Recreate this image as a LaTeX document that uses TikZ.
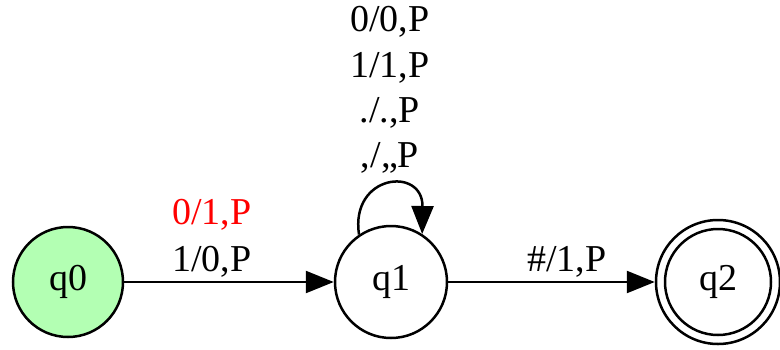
\documentclass[tikz,border=0pt]{standalone}
\usepackage{fontspec}
\setmainfont{Liberation Serif}
\usetikzlibrary{arrows.meta}
\definecolor{startgreen}{RGB}{179,255,179}
\definecolor{lblred}{RGB}{255,0,0}
\tikzset{
  statenode/.style={circle, draw=black, line width=2.5pt, inner sep=0pt, minimum size=#1},
  edgelbl/.style={inner sep=0pt, font=\fontsize{38}{44}\selectfont},
  conn/.style={line width=2.5pt, -{Triangle[length=28pt,width=22pt]}},
}
\begin{document}
\begin{tikzpicture}[x=1pt,y=-1pt]
\useasboundingbox (0,0) rectangle (780,349);
\node[statenode=110pt, fill=startgreen, font=\fontsize{38}{44}\selectfont] (q0) at (68,282) {q0};
\node[statenode=112pt, font=\fontsize{38}{44}\selectfont] (q1) at (391,282) {q1};
\node[statenode=106pt, font=\fontsize{38}{44}\selectfont] (q2) at (718,282) {q2};
\node[statenode=124pt] (q2o) at (718,282) {};
\draw[conn] (q0) -- (q1);
\draw[conn] (q1) -- (q2o);
\draw[conn] (q1.124) .. controls (350,174) and (423,166) .. (q1.57);
\node[edgelbl, text=lblred] (l01) at (212,215) {0/1,P};
\node[edgelbl] (l10) at (212,262) {1/0,P};
\node[edgelbl] (lh) at (567,262) {\#/1,P};
\node[edgelbl] (la) at (390,22) {0/0,P};
\node[edgelbl] (lb) at (390,68) {1/1,P};
\node[edgelbl] (lc) at (390,113) {./.,P};
\node[edgelbl] (ld) at (390,158) {,/,,P};
\end{tikzpicture}
\end{document}
